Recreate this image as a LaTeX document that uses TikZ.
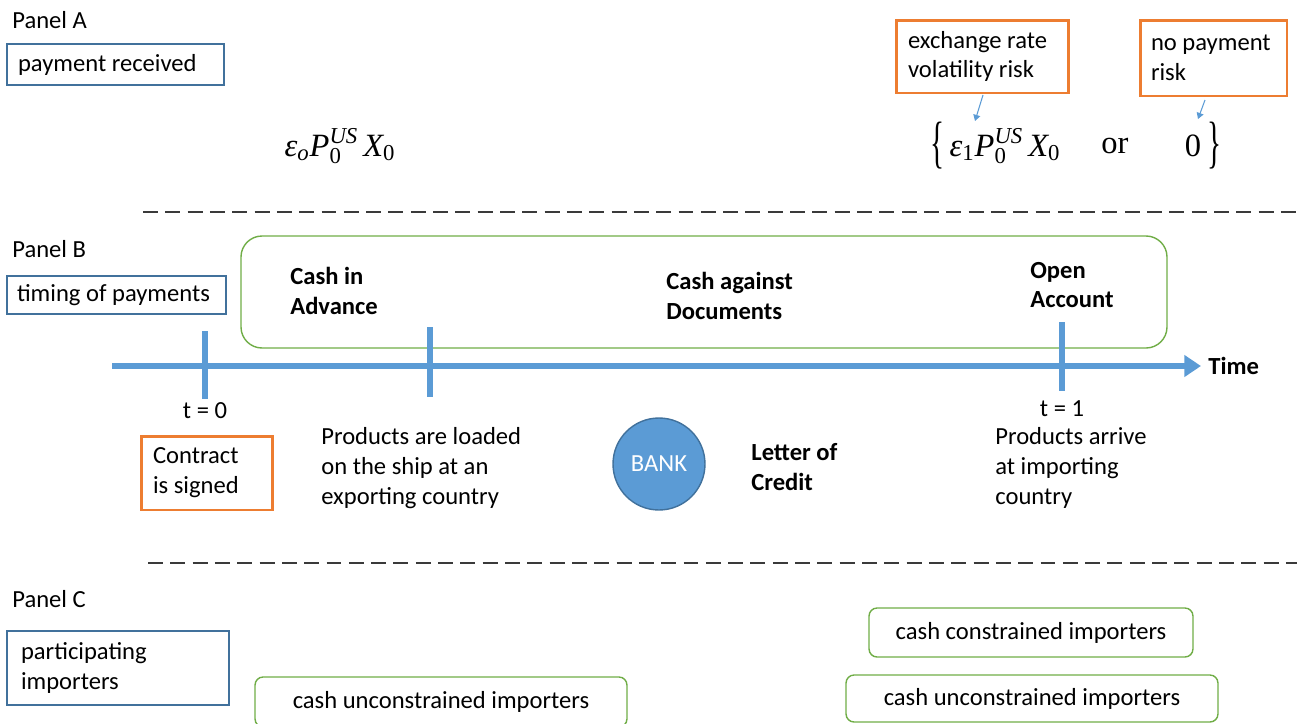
\documentclass[tikz,border=0pt]{standalone}
\usepackage{fontspec}
\usepackage{amsmath}
\usepackage{graphicx}
\setmainfont{Carlito}
\newfontfamily\tms{Liberation Serif}
\usetikzlibrary{arrows.meta}
\definecolor{tlblue}{HTML}{5B9BD5}
\definecolor{boxblue}{HTML}{41719C}
\definecolor{orng}{HTML}{ED7D31}
\definecolor{grn}{HTML}{70AD47}
\definecolor{dashgray}{HTML}{3A3A3A}
\newcommand\ti[1]{\text{\tms\itshape #1}}
\newcommand\tr[1]{\text{\tms #1}}
\tikzset{
  txt/.style={font=\fontsize{14}{17}\selectfont},
  lbl/.style={txt, inner sep=0pt, anchor=west, align=flush left},
  blbl/.style={lbl, font=\fontsize{14}{17}\selectfont\bfseries},
  ctr/.style={txt, inner sep=0pt, anchor=center},
  bluebox/.style={txt, draw=boxblue, line width=0.8pt, align=flush left, inner ysep=0pt},
  orbox/.style={txt, draw=orng, line width=1.7pt, align=flush left, inner ysep=0pt},
  grbox/.style={txt, draw=grn, line width=0.8pt, rounded corners=0.16cm, align=center, inner sep=0pt},
  fml/.style={font=\fontsize{18.5}{22}\selectfont, inner sep=0pt, anchor=center},
  sep/.style={draw=dashgray, line width=1.3pt, dash pattern=on 8.5pt off 4.2pt},
  tl/.style={draw=tlblue, line width=3.2pt},
  tick/.style={draw=tlblue, line width=3pt},
  ptr/.style={draw=tlblue, line width=0.6pt, -{Triangle[length=3.5pt,width=4pt]}},
}
\begin{document}
\begin{tikzpicture}[x=0.02cm, y=-0.02cm]
\useasboundingbox (0,0) rectangle (1303,724);
\clip (0,0) rectangle (1303,724);

% ---------------- Panel A
\node[lbl] (pa) at (12,20) {Panel A};
\node[bluebox, inner xsep=0.22cm, text width=3.90cm, minimum width=4.34cm, minimum height=0.82cm] (pr) at (115.5,64.5) {payment received};
\node[fml] (f0) at (340,146) {$\ti{ε}_{\ti{o}}\ti{P}_{\tr{0}}^{\ti{US}}\,\ti{X}_{\tr{0}}$};

\node[orbox, inner xsep=0.24cm, text width=2.98cm, minimum width=3.46cm, minimum height=1.46cm] (exr) at (982.5,56.5) {exchange rate\\volatility risk};
\node[orbox, inner xsep=0.22cm, text width=2.50cm, minimum width=2.94cm, minimum height=1.52cm] (npr) at (1213.5,58) {no payment\\risk};

\node[fml] (lb) at (938,146) {\tms\scalebox{0.9}[1.75]{\{}};
\node[fml] (f1) at (1005,146) {$\ti{ε}_{\tr{1}}\ti{P}_{\tr{0}}^{\ti{US}}\,\ti{X}_{\tr{0}}$};
\node[fml] (or) at (1115,146) {\tms or};
\node[fml] (zero) at (1193,146) {\tms 0};
\node[fml] (rb) at (1215,146) {\tms\scalebox{0.9}[1.75]{\}}};

\coordinate (a1s) at (983,95);
\coordinate (a1e) at (975,121);
\coordinate (a2s) at (1205,100);
\coordinate (a2e) at (1198,119);
\draw[ptr] (a1s) -- (a1e);
\draw[ptr] (a2s) -- (a2e);

% separator 1
\coordinate (s1a) at (143,212);
\coordinate (s1b) at (1297,212);
\draw[sep] (s1a) -- (s1b);

% ---------------- Panel B
\node[lbl] (pb) at (12,249) {Panel B};
\node[bluebox, inner xsep=0.2cm, text width=3.98cm, minimum width=4.38cm, minimum height=0.76cm] (tp) at (116.5,295) {timing of payments};

\draw[draw=grn, line width=0.8pt, rounded corners=0.42cm] (241,236) rectangle (1167,348);
\node[blbl] (cia) at (290,291) {Cash in\\Advance};
\node[blbl] (cad) at (666,296) {Cash against\\Documents};
\node[blbl] (oa) at (1030,285) {Open\\Account};

\coordinate (tls) at (112,366);
\coordinate (tle) at (1201,366);
\draw[tl, -{Triangle[length=9.5pt,width=12pt]}] (tls) -- (tle);
\coordinate (k0a) at (205,331); \coordinate (k0b) at (205,399);
\coordinate (k1a) at (430,327); \coordinate (k1b) at (430,397);
\coordinate (k2a) at (1062,322); \coordinate (k2b) at (1062,391);
\draw[tick] (k0a) -- (k0b);
\draw[tick] (k1a) -- (k1b);
\draw[tick] (k2a) -- (k2b);
\node[blbl] (time) at (1208,366) {Time};

\node[ctr] (t0) at (205,411) {t = 0};
\node[ctr] (t1) at (1062,409) {t = 1};
\node[orbox, inner xsep=0.24cm, text width=2.16cm, minimum width=2.64cm, minimum height=1.48cm] (cs) at (207,473) {Contract\\is signed};
\node[lbl] (pl) at (321,468) {Products are loaded\\on the ship at an\\exporting country};
\node[circle, fill=tlblue, draw=boxblue, line width=0.8pt, minimum size=1.84cm, inner sep=0pt, txt, text=white] (bank) at (659,464) {BANK};
\node[blbl] (lc) at (751,467) {Letter of\\Credit};
\node[lbl] (pa2) at (995,468) {Products arrive\\at importing\\country};

% separator 2
\coordinate (s2a) at (148,563);
\coordinate (s2b) at (1297,563);
\draw[sep] (s2a) -- (s2b);

% ---------------- Panel C
\node[lbl] (pc) at (12,599) {Panel C};
\node[bluebox, inner xsep=0.28cm, text width=3.88cm, minimum width=4.44cm, minimum height=1.48cm] (pi) at (118,668) {participating\\importers};

\node[grbox, minimum width=7.44cm, minimum height=1.0cm] (cu1) at (441,702) {cash unconstrained importers};
\node[grbox, minimum width=6.48cm, minimum height=0.98cm] (cc) at (1031,632.5) {cash constrained importers};
\node[grbox, minimum width=7.44cm, minimum height=0.94cm] (cu2) at (1032,698.5) {cash unconstrained importers};
\end{tikzpicture}
\end{document}
